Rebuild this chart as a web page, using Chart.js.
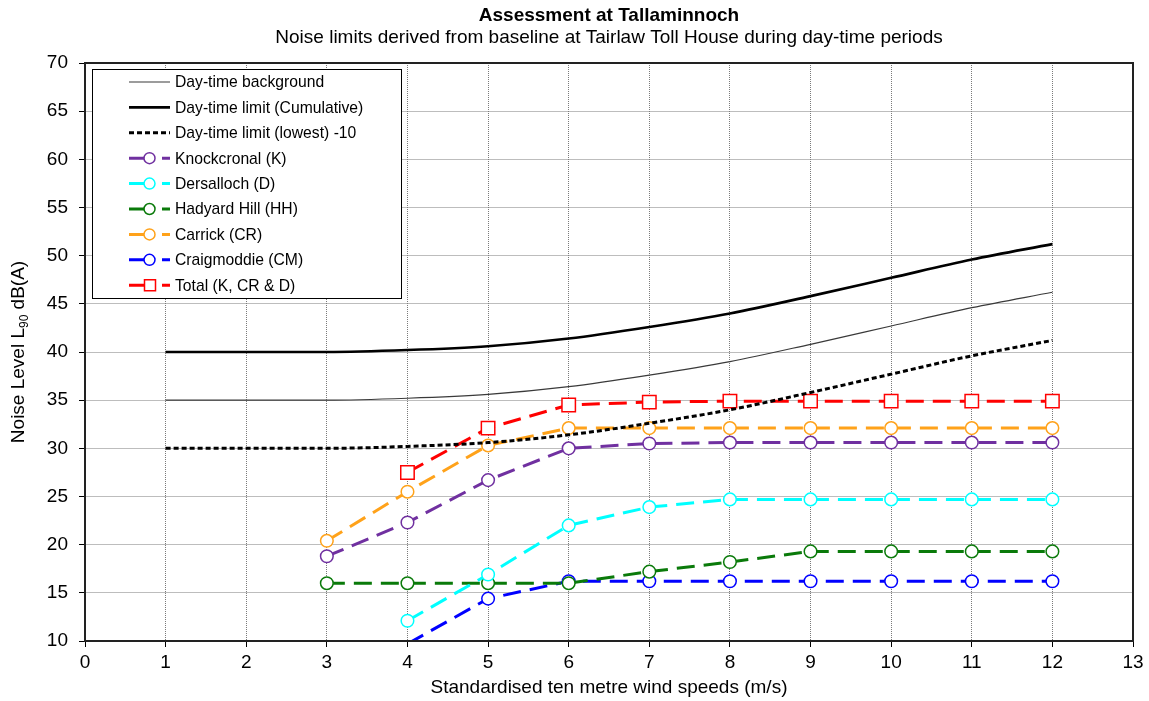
<!DOCTYPE html>
<html>
<head>
<meta charset="utf-8">
<title>Assessment at Tallaminnoch</title>
<script src="https://cdn.jsdelivr.net/npm/chart.js@4.4.1/dist/chart.umd.min.js"></script>
<style>
  html, body { margin: 0; padding: 0; background: #fff; }
  #wrap { width: 1149px; height: 701px; }
</style>
</head>
<body>
<div id="wrap"><canvas id="noiseChart"></canvas></div>
<script>
// wind speed bins (m/s)
const windSpeeds = [1, 2, 3, 4, 5, 6, 7, 8, 9, 10, 11, 12];

// day-time background and derived limits, dB(A)
const dayBackground      = [35.0, 35.0, 35.0, 35.2, 35.6, 36.4, 37.6, 39.0, 40.8, 42.7, 44.6, 46.2];
const dayLimitCumulative = [40.0, 40.0, 40.0, 40.2, 40.6, 41.4, 42.6, 44.0, 45.8, 47.7, 49.6, 51.2];
const dayLimitLowest     = [30.0, 30.0, 30.0, 30.2, 30.6, 31.4, 32.6, 34.0, 35.8, 37.7, 39.6, 41.2];

// predicted wind farm levels (null = no prediction at that speed)
const knockcronal = [null, null, 18.8, 22.3, 26.7, 30.0, 30.5, 30.6, 30.6, 30.6, 30.6, 30.6];
const dersalloch  = [null, null, null, 12.1, 16.9, 22.0, 23.9, 24.7, 24.7, 24.7, 24.7, 24.7];
const hadyardHill = [null, null, 16.0, 16.0, 16.0, 16.0, 17.2, 18.2, 19.3, 19.3, 19.3, 19.3];
const carrick     = [null, null, 20.4, 25.5, 30.3, 32.1, 32.1, 32.1, 32.1, 32.1, 32.1, 32.1];
const craigmoddie = [null, null, null, 9.7, 14.4, 16.2, 16.2, 16.2, 16.2, 16.2, 16.2, 16.2];
const totalKCRD   = [null, null, null, 27.5, 32.1, 34.5, 34.8, 34.9, 34.9, 34.9, 34.9, 34.9];

const xTicksMax = 13;
const yMin = 10;
const yMax = 70;

const FONT = '"Liberation Sans", Arial, sans-serif';

function pairs(values) {
  const out = [];
  values.forEach((v, i) => {
    if (v !== null) out.push({ x: windSpeeds[i], y: v });
  });
  return out;
}

function limitLine(label, values, color, width, dash) {
  return {
    label: label,
    data: pairs(values),
    borderColor: color,
    borderWidth: width,
    borderDash: dash,
    pointRadius: 0,
    cubicInterpolationMode: 'monotone',
    legendKind: 'line'
  };
}

function farmLine(label, values, color, style) {
  return {
    label: label,
    data: pairs(values),
    borderColor: color,
    borderWidth: 3,
    borderDash: [18, 9],
    pointStyle: style,
    // markers below the axis are not shown
    pointRadius: ctx => (ctx.raw && ctx.raw.y < yMin) ? 0 : (style === 'rect' ? 9.5 : 6.3),
    pointBackgroundColor: '#fff',
    pointBorderColor: color,
    pointBorderWidth: 1.5,
    tension: 0,
    legendKind: 'marker'
  };
}

const datasets = [
  limitLine('Day-time background', dayBackground, '#3a3a3a', 1.2, []),
  limitLine('Day-time limit (Cumulative)', dayLimitCumulative, '#000', 2.6, []),
  limitLine('Day-time limit (lowest) -10', dayLimitLowest, '#000', 3, [5, 3]),
  farmLine('Knockcronal (K)', knockcronal, '#7030A0', 'circle'),
  farmLine('Dersalloch (D)', dersalloch, '#00FFFF', 'circle'),
  farmLine('Hadyard Hill (HH)', hadyardHill, '#0A7A0A', 'circle'),
  farmLine('Carrick (CR)', carrick, '#FFA21A', 'circle'),
  farmLine('Craigmoddie (CM)', craigmoddie, '#0000FF', 'circle'),
  farmLine('Total (K, CR & D)', totalKCRD, '#FF0000', 'rect')
];

// black frame round the plot area
const plotFrame = {
  id: 'plotFrame',
  afterDraw(chart) {
    const a = chart.chartArea;
    const ctx = chart.ctx;
    ctx.save();
    ctx.strokeStyle = '#222';
    ctx.lineWidth = 2;
    ctx.strokeRect(a.left, a.top, a.right - a.left, a.bottom - a.top);
    ctx.restore();
  }
};

// boxed legend in the top-left corner, line sample + marker like the series
const legendBox = {
  id: 'legendBox',
  afterDatasetsDraw(chart) {
    const ctx = chart.ctx;
    const a = chart.chartArea;
    const x0 = a.left + 7, y0 = a.top + 6, w = 309, h = 229;
    ctx.save();
    ctx.fillStyle = '#fff';
    ctx.fillRect(x0, y0, w, h);
    ctx.strokeStyle = '#000';
    ctx.lineWidth = 1;
    ctx.strokeRect(x0 + 0.5, y0 + 0.5, w, h);

    chart.data.datasets.forEach((ds, i) => {
      const y = y0 + 13 + i * 25.4;
      const lx = x0 + 37;
      ctx.strokeStyle = ds.borderColor;
      ctx.lineWidth = ds.borderWidth;
      ctx.setLineDash([]);
      if (ds.legendKind === 'line') {
        if (ds.borderDash.length) {
          ctx.setLineDash(ds.borderDash);
        }
        ctx.beginPath();
        ctx.moveTo(lx, y);
        ctx.lineTo(lx + 41, y);
        ctx.stroke();
        ctx.setLineDash([]);
      } else {
        ctx.beginPath();
        ctx.moveTo(lx, y);
        ctx.lineTo(lx + 20, y);
        ctx.moveTo(lx + 33, y);
        ctx.lineTo(lx + 41, y);
        ctx.stroke();
        ctx.fillStyle = '#fff';
        ctx.lineWidth = 1.5;
        ctx.beginPath();
        if (ds.pointStyle === 'rect') {
          ctx.rect(lx + 15.5, y - 5.5, 11, 11);
        } else {
          ctx.arc(lx + 20.5, y, 5.5, 0, Math.PI * 2);
        }
        ctx.fill();
        ctx.stroke();
      }
      ctx.fillStyle = '#000';
      ctx.font = '15.7px ' + FONT;
      ctx.textBaseline = 'middle';
      ctx.textAlign = 'left';
      ctx.fillText(ds.label, x0 + 83, y + 1);
    });
    ctx.restore();
  }
};

// y axis title with the subscript in L90
const yTitle = {
  id: 'yTitle',
  afterDraw(chart) {
    const ctx = chart.ctx;
    const a = chart.chartArea;
    const big = '19px ' + FONT;
    const small = '12px ' + FONT;
    const parts = [['Noise Level L', big, 0], ['90', small, 5.5], [' dB(A)', big, 0]];
    ctx.save();
    let total = 0;
    parts.forEach(p => { ctx.font = p[1]; total += ctx.measureText(p[0]).width; });
    ctx.translate(19, (a.top + a.bottom) / 2);
    ctx.rotate(-Math.PI / 2);
    ctx.fillStyle = '#000';
    ctx.textBaseline = 'middle';
    ctx.textAlign = 'left';
    let x = -total / 2;
    parts.forEach(p => {
      ctx.font = p[1];
      ctx.fillText(p[0], x, p[2]);
      x += ctx.measureText(p[0]).width;
    });
    ctx.restore();
  }
};

const gridStyle = {
  color: '#7a7a7a',
  lineWidth: 1,
  tickColor: '#000',
  tickLength: 6
};

new Chart(document.getElementById('noiseChart'), {
  type: 'line',
  data: { datasets: datasets },
  options: {
    responsive: true,
    maintainAspectRatio: false,
    animation: false,
    spanGaps: true,
    layout: { padding: { left: 0, right: 16, top: 0, bottom: 0 } },
    scales: {
      x: {
        type: 'linear',
        min: 0,
        max: xTicksMax,
        ticks: { stepSize: 1, color: '#000', padding: 4, font: { family: FONT, size: 19 } },
        grid: gridStyle,
        border: { display: true, color: '#222', width: 2, dash: [1, 1] },
        title: {
          display: true,
          text: 'Standardised ten metre wind speeds (m/s)',
          color: '#000',
          font: { family: FONT, size: 19 },
          padding: { top: 0, bottom: 2 }
        },
        afterFit(scale) { scale.height = 60; }
      },
      y: {
        min: yMin,
        max: yMax,
        ticks: { stepSize: 5, color: '#000', padding: 11, font: { family: FONT, size: 19 } },
        grid: gridStyle,
        border: { display: true, color: '#222', width: 1.5, dash: [1, 1] },
        afterFit(scale) { scale.width = 85; }
      }
    },
    plugins: {
      legend: { display: false },
      tooltip: { enabled: false },
      title: {
        display: true,
        fullSize: false,
        text: 'Assessment at Tallaminnoch',
        color: '#000',
        font: { family: FONT, size: 19, weight: 'bold' },
        padding: { top: 4, bottom: 0 }
      },
      subtitle: {
        display: true,
        fullSize: false,
        text: 'Noise limits derived from baseline at Tairlaw Toll House during day-time periods',
        color: '#000',
        font: { family: FONT, size: 19 },
        padding: { top: 0, bottom: 13.4 }
      }
    }
  },
  plugins: [legendBox, plotFrame, yTitle]
});
</script>
</body>
</html>
